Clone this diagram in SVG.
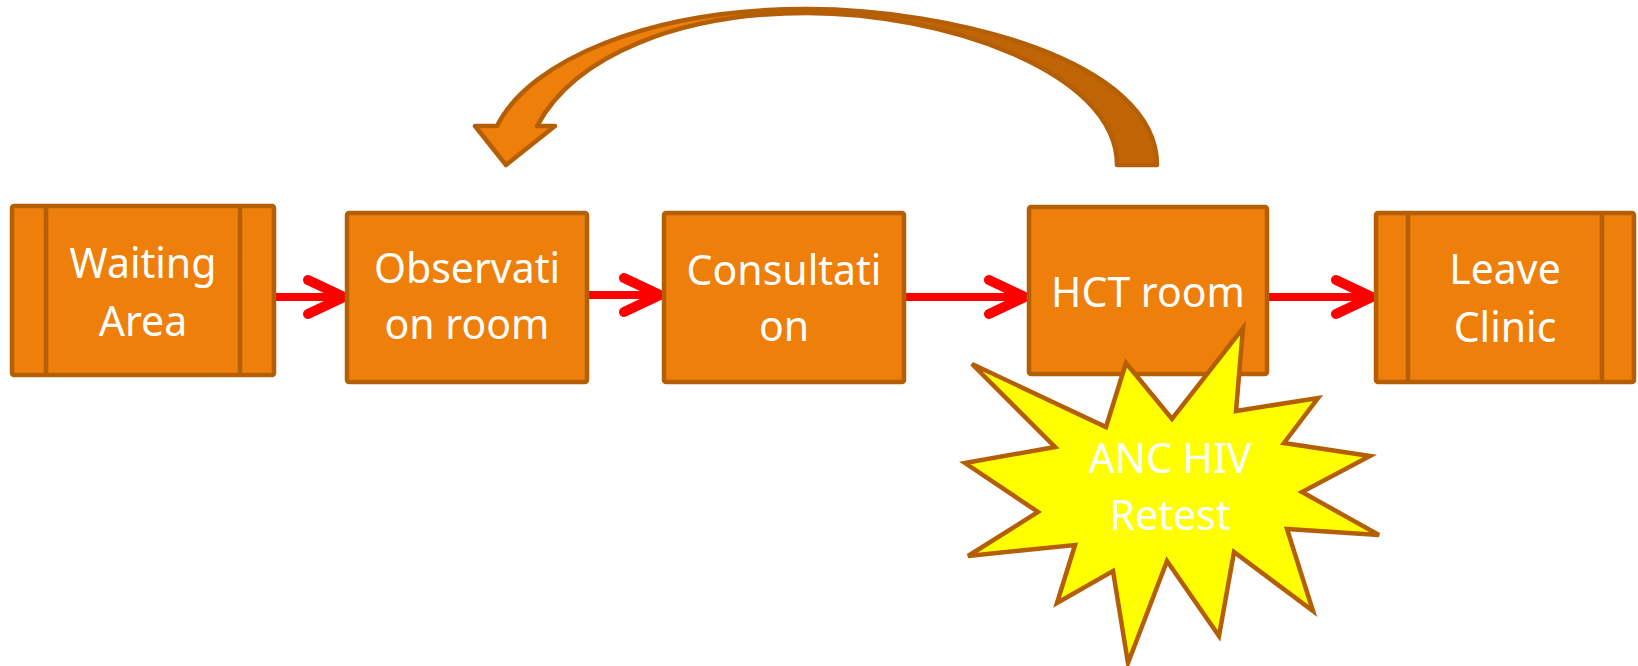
<svg xmlns="http://www.w3.org/2000/svg" width="1638" height="666" viewBox="0 0 1638 666">
  <style>
    .box { fill: #EF7F0B; stroke: #B45F06; stroke-width: 4.5; }
    .bar { fill: none; stroke: #B45F06; stroke-width: 4.5; }
    .lbl { font-family: "Noto Sans", "Open Sans", sans-serif; font-size: 41px; fill: #FFFFFF; text-anchor: middle; }
    .line { stroke: #FF0000; stroke-width: 8; fill: none; }
    .head { stroke: #FF0000; stroke-width: 10; fill: none; stroke-linecap: round; stroke-linejoin: round; }
    .loop { stroke: #B45F06; stroke-width: 4.5; stroke-linejoin: round; }
  </style>
  <rect width="1638" height="666" fill="#FFFFFF"/>

  <!-- return loop: curved arrow from HCT room back to Observation room -->
  <g id="loop-arrow">
    <path class="loop" fill="#C06505" d="M807,9 C950,9 1157,60 1157,165 L1117,165 C1117,70 940,13 807,13 Z"/>
    <path class="loop" fill="#EF7F0B" d="M475,126 L497,126 C530,60 650,9 807,9 L807,13 C680,13 575,55 537,126 L555,126 L506,165 Z"/>
  </g>

  <g id="connectors">
    <path class="line" d="M274,297 H342"/>
    <path class="head" d="M308,280 L344,297 L308,314"/>
    <path class="line" d="M587,295 H658"/>
    <path class="head" d="M624,278 L660,295 L624,312"/>
    <path class="line" d="M904,297 H1023"/>
    <path class="head" d="M989,280 L1025,297 L989,314"/>
    <path class="line" d="M1267,297 H1370"/>
    <path class="head" d="M1336,280 L1372,297 L1336,314"/>
  </g>

  <g id="waiting-area">
    <rect class="box" x="12" y="206" width="262" height="169" rx="2"/>
    <path class="bar" d="M46,206 V375 M240,206 V375"/>
    <text class="lbl" x="143" y="278">Waiting</text>
    <text class="lbl" x="143" y="336">Area</text>
  </g>

  <g id="observation-room">
    <rect class="box" x="347" y="213" width="240" height="169" rx="2"/>
    <text class="lbl" x="467" y="283">Observati</text>
    <text class="lbl" x="467" y="339">on room</text>
  </g>

  <g id="consultation">
    <rect class="box" x="664" y="213" width="240" height="169" rx="2"/>
    <text class="lbl" x="784" y="285">Consultati</text>
    <text class="lbl" x="784" y="341">on</text>
  </g>

  <g id="hct-room">
    <rect class="box" x="1029" y="207" width="238" height="167" rx="2"/>
    <text class="lbl" x="1148" y="307">HCT room</text>
  </g>

  <g id="leave-clinic">
    <rect class="box" x="1376" y="213" width="258" height="169" rx="2"/>
    <path class="bar" d="M1408,213 V382 M1602,213 V382"/>
    <text class="lbl" x="1505" y="284">Leave</text>
    <text class="lbl" x="1505" y="342">Clinic</text>
  </g>

  <g id="anc-hiv-retest">
    <polygon fill="#FFFF00" stroke="#B45F06" stroke-width="4.5" stroke-linejoin="miter"
      points="1243,328 1236,411 1318,398 1284,443 1370,456 1302,492 1379,535 1287,529 1313,611 1234,552 1219,636 1167,561 1128,663 1113,571 1057,603 1075,545 968,556 1038,512 965,463 1055,447 972,364 1106,427 1126,363 1172,419"/>
    <text class="lbl" x="1170" y="473">ANC HIV</text>
    <text class="lbl" x="1170" y="530">Retest</text>
  </g>
</svg>
